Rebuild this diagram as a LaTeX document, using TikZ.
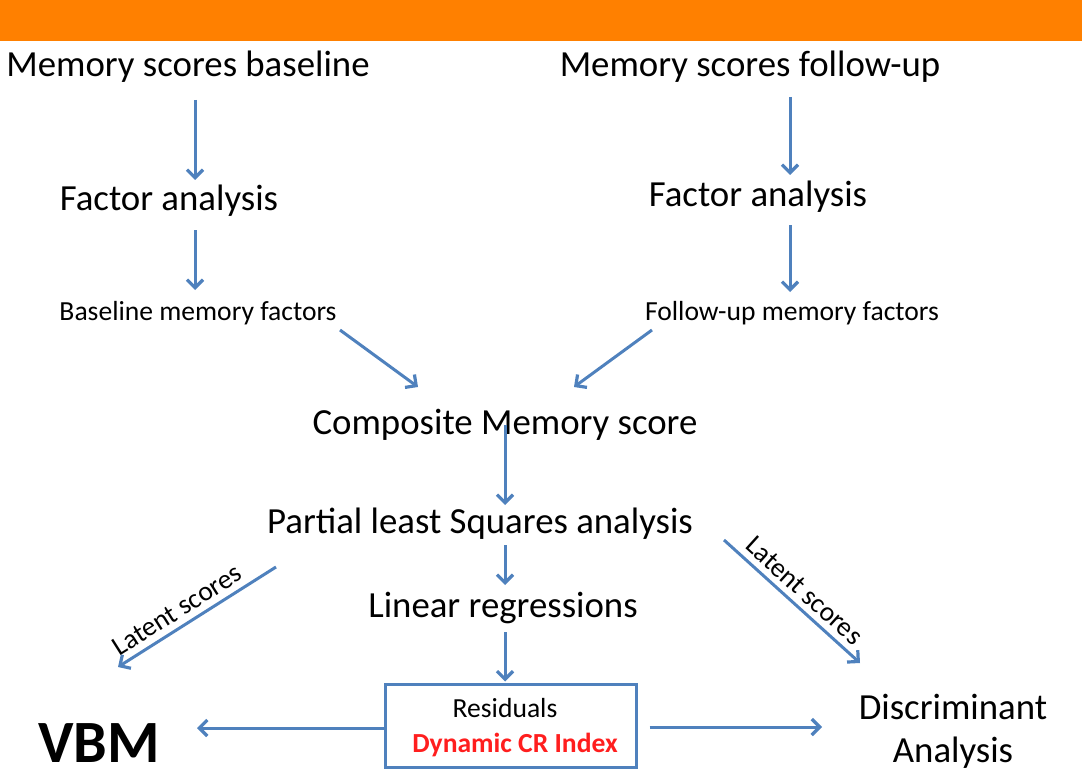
\documentclass[tikz,border=0pt]{standalone}
\usepackage{fontspec}
\setmainfont{Carlito}
\usetikzlibrary{arrows.meta,calc}
\definecolor{barorange}{RGB}{255,128,0}
\definecolor{arrblue}{RGB}{79,129,189}
\definecolor{crred}{RGB}{255,30,30}
\tikzset{
  big/.style={font=\fontsize{36.8}{43}\selectfont, inner sep=0pt, anchor=base},
  small/.style={font=\fontsize{27.6}{33}\selectfont, inner sep=0pt, anchor=base},
  lbl/.style={font=\fontsize{27.5}{32}\selectfont, inner sep=0pt},
  arr/.style={draw=arrblue, line width=3pt, -{Straight Barb[length=8pt,width=16pt,line width=3.2pt]}},
  resbox/.style={draw=arrblue, line width=3pt, minimum width=251pt, minimum height=83pt, inner sep=0pt}
}
\begin{document}
\begin{tikzpicture}[x=1pt,y=-1pt]
\useasboundingbox (0,0) rectangle (1082,781);
\fill[barorange] (0,0) rectangle (1082,41);
% nodes
\node[big] (msb) at (188,77) {Memory scores baseline};
\node[big] (msf) at (750,77) {Memory scores follow-up};
\node[big] (fab) at (169,211) {Factor analysis};
\node[big] (faf) at (758,206) {Factor analysis};
\node[small] (bmf) at (198,320) {Baseline memory factors};
\node[small] (fmf) at (792,320) {Follow-up memory factors};
\node[big] (cms) at (505,434) {Composite Memory score};
\node[big] (pls) at (480,533) {Partial least Squares analysis};
\node[big] (lr) at (503,617) {Linear regressions};
\node[resbox] (box) at (510.5,725.5) {};
\node[small] (res) at (505,717) {Residuals};
\node[small, text=crred, font=\fontsize{27.6}{33}\selectfont\bfseries] (dcr) at (515,752) {Dynamic CR Index};
\node[big, font=\fontsize{60}{70}\selectfont\bfseries] (vbm) at (99,762) {VBM};
\node[big] (da1) at (953,719) {Discriminant};
\node[big] (da2) at (953,762) {Analysis};
% connectors
\draw[arr] ($(msb.base)+(7,23)$) -- ($(fab.base)+(26,-31)$);
\draw[arr] ($(fab.base)+(26,19)$) -- ($(bmf.base)+(-3,-30)$);
\draw[arr] ($(msf.base)+(40,20)$) -- ($(faf.base)+(32,-31)$);
\draw[arr] ($(faf.base)+(32,19)$) -- ($(fmf.base)+(-2,-28)$);
\draw[arr] ($(bmf.base)+(142,10)$) -- ($(cms.base)+(-87,-47)$);
\draw[arr] ($(fmf.base)+(-140,10)$) -- ($(cms.base)+(69,-47)$);
\draw[arr] ($(cms.base)+(0,-9)$) -- ($(pls.base)+(25,-28)$);
\draw[arr] ($(pls.base)+(25,12)$) -- ($(lr.base)+(2,-32)$);
\draw[arr] ($(lr.base)+(2,15)$) -- ($(box.north)+(-5.5,-1)$);
\draw[arr] ($(box.west)+(0,2.5)$) -- ($(vbm.base)+(98,-34)$);
\draw[arr] ($(box.east)+(12,1.5)$) -- ($(da1.base)+(-131,8)$);
\draw[arr] ($(pls.base)+(-204,34)$) -- node[lbl, sloped, above=6pt, pos=0.57] (ls1) {Latent scores} ($(vbm.base)+(19,-95)$);
\draw[arr] ($(pls.base)+(244,7)$) -- node[lbl, sloped, above=6pt, pos=0.51] (ls2) {Latent scores} ($(da1.base)+(-93,-56)$);
\end{tikzpicture}
\end{document}
